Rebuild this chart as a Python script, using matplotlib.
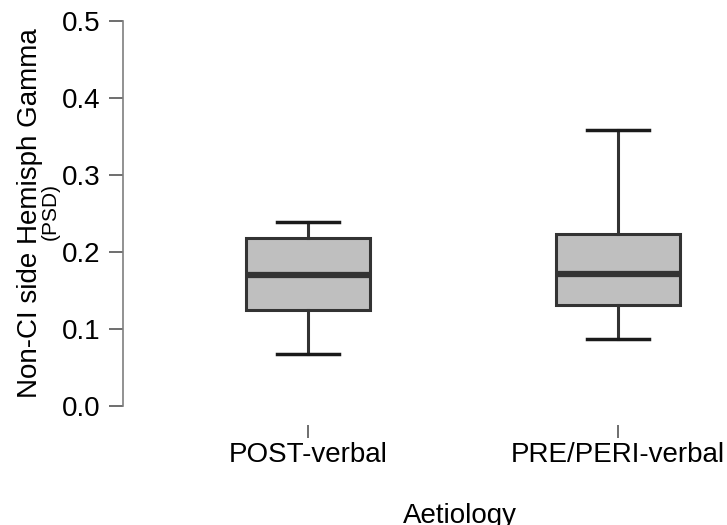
import matplotlib
matplotlib.use("Agg")
import matplotlib.pyplot as plt

categories = ["POST-verbal", "PRE/PERI-verbal"]
whisker_low = [0.068, 0.087]
q1 = [0.125, 0.131]
median = [0.170, 0.172]
q3 = [0.218, 0.224]
whisker_high = [0.239, 0.358]
y_ticks = [0.0, 0.1, 0.2, 0.3, 0.4, 0.5]

plt.rcParams['font.family'] = ['Liberation Sans', 'DejaVu Sans']

W, H = 727, 525
fig = plt.figure(figsize=(W / 100, H / 100), dpi=100)
ax = fig.add_axes([123 / W, (H - 425) / H, (W - 123) / W, (425 - 21) / H])

stats = []
for i, c in enumerate(categories):
    stats.append(dict(label=c, whislo=whisker_low[i], q1=q1[i], med=median[i],
                      q3=q3[i], whishi=whisker_high[i], fliers=[]))

ax.bxp(stats, positions=[1, 2], widths=0.40, patch_artist=True, showfliers=False,
       boxprops=dict(facecolor="#bfbfbf", edgecolor="#333333", linewidth=2.2),
       medianprops=dict(color="#333333", linewidth=4.5, solid_capstyle="butt"),
       whiskerprops=dict(color="#333333", linewidth=2.2),
       capprops=dict(color="#1a1a1a", linewidth=2.5),
       capwidths=0.20)

ax.set_xlim(1 - (308 - 123) / 310, 1 + (727 - 308) / 310)
ax.set_ylim((406 - 425) / 770, 0.5)

ax.set_yticks(y_ticks)
ax.set_yticklabels([f"{v:.1f}" for v in y_ticks])
ax.set_xticks([1, 2])
ax.set_xticklabels(categories)

for s in ["top", "right", "bottom"]:
    ax.spines[s].set_visible(False)
ax.spines["left"].set_bounds(0.0, 0.5)
ax.spines["left"].set_color("#7f7f7f")
ax.spines["left"].set_linewidth(1.2)

ax.tick_params(axis="y", length=10, width=1.2, color="#555555", pad=6, labelsize=20)
ax.tick_params(axis="x", length=9, width=1.2, color="#555555", pad=3, labelsize=20)
ax.patch.set_visible(False)

fig.text(30 / W, (H - 213) / H, "Non-CI side Hemisph Gamma", rotation=90,
         ha="center", va="center", fontsize=20)
fig.text(50 / W, (H - 211) / H, "(PSD)", rotation=90,
         ha="center", va="center", fontsize=15)
fig.text(460 / W, 2 / H, "Aetiology", ha="center", va="baseline", fontsize=20)

fig.savefig("out.png", dpi=100)
